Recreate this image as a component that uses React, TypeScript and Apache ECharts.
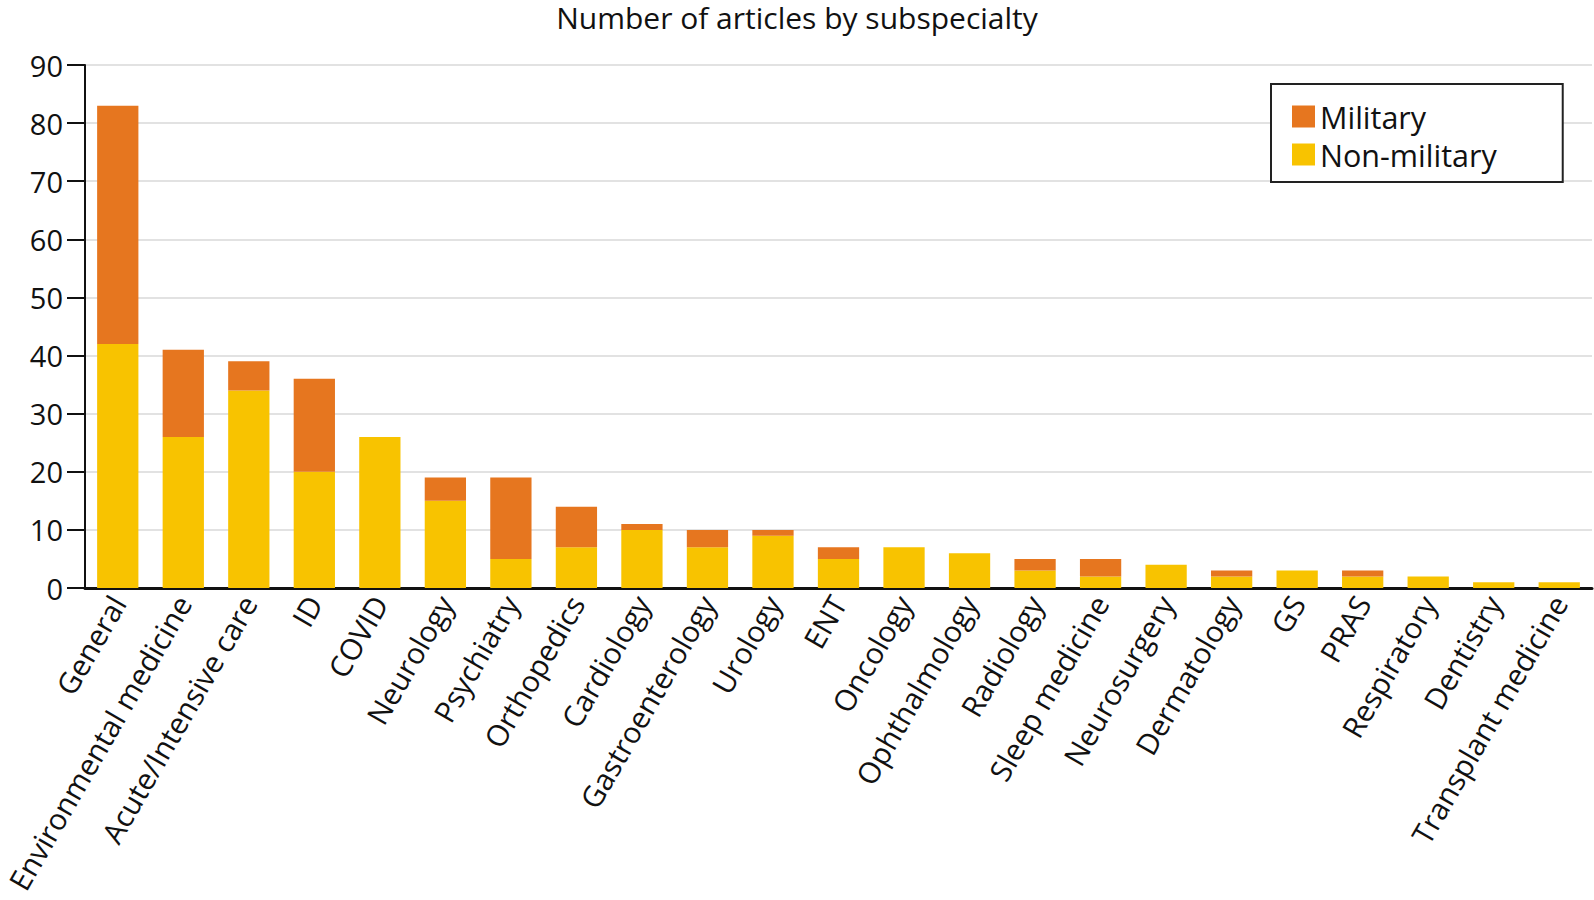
import React, { useEffect, useRef } from "react";
import * as echarts from "echarts";

const categories = [
  "General", "Environmental medicine", "Acute/Intensive care", "ID", "COVID",
  "Neurology", "Psychiatry", "Orthopedics", "Cardiology", "Gastroenterology",
  "Urology", "ENT", "Oncology", "Ophthalmology", "Radiology", "Sleep medicine",
  "Neurosurgery", "Dermatology", "GS", "PRAS", "Respiratory", "Dentistry",
  "Transplant medicine",
];
const nonMilitary = [42, 26, 34, 20, 26, 15, 5, 7, 10, 7, 9, 5, 7, 6, 3, 2, 4, 2, 3, 2, 2, 1, 1];
const military = [41, 15, 5, 16, 0, 4, 14, 7, 1, 3, 1, 2, 0, 0, 2, 3, 0, 1, 0, 1, 0, 0, 0];
const yTicks = [0, 10, 20, 30, 40, 50, 60, 70, 80, 90];

const FONT = "'Open Sans', 'Noto Sans', sans-serif";
const ORANGE = "#E6761F";
const YELLOW = "#F8C300";

export default function App() {
  const ref = useRef<HTMLDivElement>(null);
  useEffect(() => {
    document.body.style.margin = "0";
    const chart = echarts.init(ref.current!, null, { renderer: "svg" });
    chart.setOption({
      animation: false,
      backgroundColor: "#ffffff",
      title: {
        text: "Number of articles by subspecialty",
        left: "center",
        top: 2,
        padding: 0,
        textStyle: { fontFamily: FONT, fontSize: 30, fontWeight: "normal", color: "#111" },
      },
      legend: {
        data: ["Military", "Non-military"],
        orient: "vertical",
        left: 1271,
        top: 84,
        padding: [17, 66, 12, 21],
        itemGap: 7,
        itemWidth: 23,
        itemHeight: 22,
        borderColor: "#222",
        borderWidth: 2,
        backgroundColor: "#fff",
        icon: "rect",
        textStyle: { fontFamily: FONT, fontSize: 30.5, color: "#111", lineHeight: 30 },
      },
      grid: { left: 85, right: 2, top: 65, bottom: 312, containLabel: false },
      xAxis: {
        type: "category",
        data: categories,
        axisLine: { lineStyle: { color: "#111", width: 3 } },
        axisTick: { show: false },
        axisLabel: {
          interval: 0,
          rotate: 60,
          margin: 10,
          fontFamily: FONT,
          fontSize: 29.5,
          color: "#111",
        },
      },
      yAxis: {
        type: "value",
        min: 0,
        max: 90,
        interval: 10,
        axisLine: { show: true, lineStyle: { color: "#111", width: 2 } },
        axisTick: { show: true, length: 18, lineStyle: { color: "#111", width: 2 } },
        axisLabel: {
          margin: 22,
          fontFamily: FONT,
          fontSize: 29,
          color: "#111",
          formatter: (v: number) => (yTicks.includes(v) ? String(v) : ""),
        },
        splitLine: { show: true, lineStyle: { color: "#e2e2e2", width: 2 } },
      },
      series: [
        {
          name: "Non-military",
          type: "bar",
          stack: "total",
          data: nonMilitary,
          barCategoryGap: "37%",
          itemStyle: { color: YELLOW },
        },
        {
          name: "Military",
          type: "bar",
          stack: "total",
          data: military,
          barCategoryGap: "37%",
          itemStyle: { color: ORANGE },
        },
      ],
    });
    return () => chart.dispose();
  }, []);
  return <div ref={ref} style={{ width: 1594, height: 900 }} />;
}
